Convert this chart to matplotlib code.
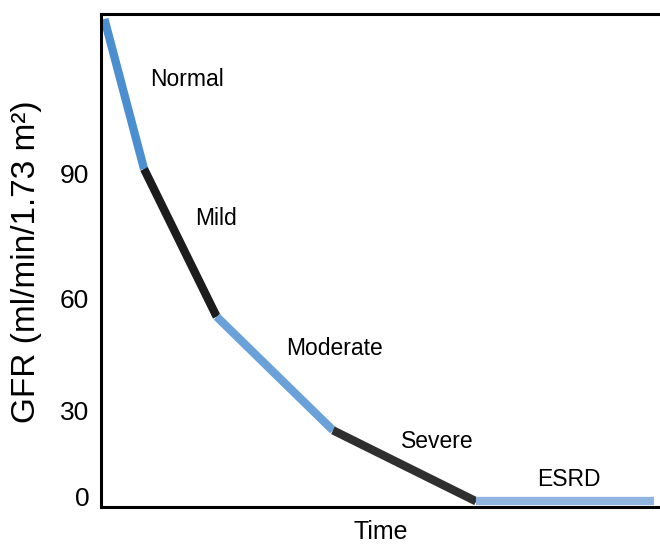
import numpy as np
import matplotlib
matplotlib.use("Agg")
import matplotlib.pyplot as plt

# ---- data ----
stages = ["Normal", "Mild", "Moderate", "Severe", "ESRD"]
time_points = [0.6, 7.7, 20.7, 41.5, 67.1, 98.9]
gfr_points = [127, 91, 55, 23, -1.5, -1.5]
seg_colors = ["#4b8fd0", "#1c1c1c", "#6ba1d9", "#2f2f2f", "#90b4e0"]
ytick_values = [0, 30, 60, 90]
ytick_labels = ["0", "30", "60", "90"]

# non-uniform (illustrative) vertical scale: GFR value -> drawing height
gfr_knots = [-50, 0, 30, 60, 90, 300]
pos_knots = [-135, 10, 97, 209, 334, 1209]


def fwd(v):
    return np.interp(v, gfr_knots, pos_knots)


def inv(p):
    return np.interp(p, pos_knots, gfr_knots)


plt.rcParams['font.family'] = ['Liberation Sans', 'DejaVu Sans']

fig = plt.figure(figsize=(6.6, 5.44), dpi=100)
ax = fig.add_axes([101 / 660, 37 / 544, 559 / 660, 493 / 544])
ax.set_yscale('function', functions=(fwd, inv))

for i in range(len(stages)):
    ax.plot(time_points[i:i + 2], gfr_points[i:i + 2], color=seg_colors[i],
            lw=6.0, solid_capstyle='butt')

ax.set_xlim(0, 100)
ax.set_ylim(-3.45, 128.2)
ax.set_xticks([])
ax.set_yticks(ytick_values)
ax.set_yticklabels(ytick_labels)
ax.yaxis.set_minor_locator(matplotlib.ticker.NullLocator())
ax.tick_params(axis='y', length=0, labelsize=19, pad=8.5)

for s in ['left', 'top', 'bottom']:
    ax.spines[s].set_linewidth(2.2)
ax.spines['right'].set_visible(False)

# stage labels (axes-fraction positions, baseline)
label_pos = [(0.154, 0.854), (0.206, 0.571), (0.418, 0.308), (0.601, 0.120), (0.837, 0.043)]
for name, (lx, ly) in zip(stages, label_pos):
    ax.text(lx, ly, name, transform=ax.transAxes, ha='center', va='baseline',
            fontsize=16.5)

ax.set_xlabel("Time", fontsize=18)
ax.xaxis.set_label_coords(0.5, -0.027)
ax.set_ylabel("GFR (ml/min/1.73 m\u00b2)", fontsize=24)
ax.yaxis.set_label_coords(-0.1055, 0.497)

fig.savefig("out.png", dpi=100)
